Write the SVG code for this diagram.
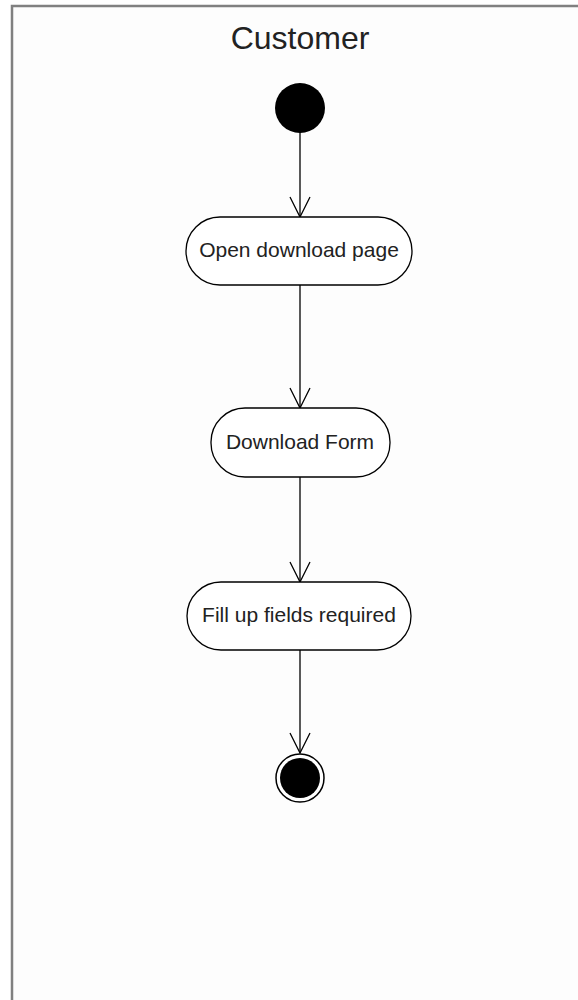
<svg xmlns="http://www.w3.org/2000/svg" width="578" height="1000" viewBox="0 0 578 1000">
<style>
.node rect{fill:#fff;stroke:#000;stroke-width:1.3}
.node text{font-family:"Liberation Sans",Arial,sans-serif;font-size:21px;fill:#222;text-anchor:middle}
.edge{stroke:#000;stroke-width:1.3;fill:none}
</style>
<defs>
<marker id="open" viewBox="0 0 22 22" refX="21" refY="11" markerWidth="22" markerHeight="22" markerUnits="userSpaceOnUse" orient="auto">
<path d="M1,1 L21,11 L1,21" fill="none" stroke="#000" stroke-width="1.3"/>
</marker>
</defs>
<rect width="578" height="1000" fill="#fff"/>
<g id="lane">
<rect x="12" y="6" width="600" height="1010" fill="#fdfdfd" stroke="#808080" stroke-width="2.5"/>
<text x="300" y="49" font-family="Liberation Sans,Arial,sans-serif" font-size="32" fill="#222" text-anchor="middle">Customer</text>
</g>
<g id="connectors">
<line class="edge" x1="300" y1="132" x2="300" y2="217" marker-end="url(#open)"/>
<line class="edge" x1="300" y1="285" x2="300" y2="408" marker-end="url(#open)"/>
<line class="edge" x1="300" y1="477" x2="300" y2="582" marker-end="url(#open)"/>
<line class="edge" x1="300" y1="650" x2="300" y2="753" marker-end="url(#open)"/>
</g>
<g id="start"><circle cx="300" cy="108" r="25" fill="#000"/></g>
<g id="n1" class="node"><rect x="186" y="217" width="226" height="68" rx="34"/><text x="299" y="257">Open download page</text></g>
<g id="n2" class="node"><rect x="211" y="408" width="179" height="69" rx="34"/><text x="300" y="449">Download Form</text></g>
<g id="n3" class="node"><rect x="187" y="582" width="224" height="68" rx="34"/><text x="299" y="622">Fill up fields required</text></g>
<g id="end"><circle cx="300" cy="778" r="24" fill="#fff" stroke="#000" stroke-width="1.5"/><circle cx="300" cy="778" r="20" fill="#000"/></g>
</svg>
